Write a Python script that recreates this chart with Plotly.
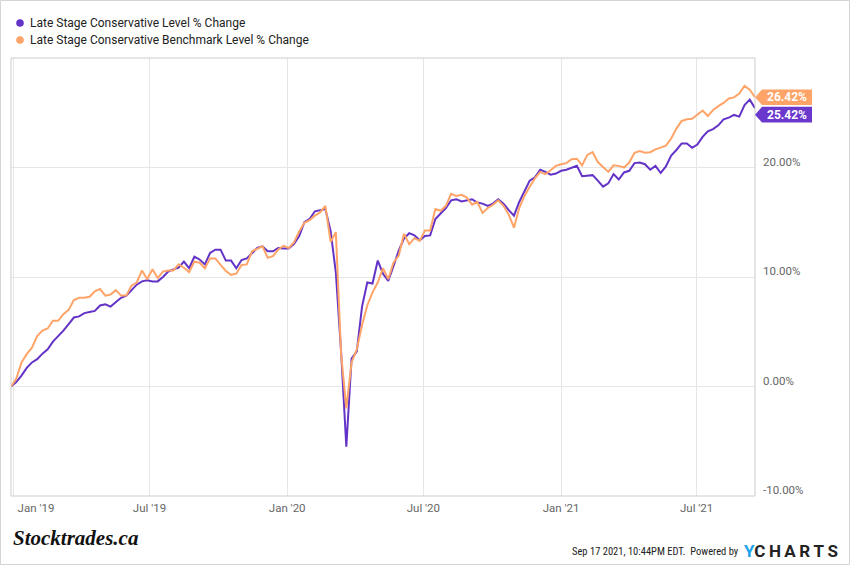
import pandas as pd
import plotly.graph_objects as go

# ---------------- data ----------------
start_date = "2018-12-28"
n_weeks = 143
dates = pd.date_range(start_date, periods=n_weeks, freq="7D")

level = [
    0.0, 0.4, 1.0, 1.7, 2.2, 2.5, 3.0, 3.4, 4.1, 4.6,
    5.1, 5.7, 6.3, 6.4, 6.7, 6.8, 6.9, 7.4, 7.5, 7.3,
    7.7, 8.1, 8.3, 8.8, 9.3, 9.6, 9.7, 9.6, 9.6, 10.0,
    10.5, 10.7, 10.85, 11.4, 10.8, 11.85, 11.6, 11.15, 12.2, 12.5,
    12.5, 11.5, 11.5, 10.8, 11.55, 11.7, 12.2, 12.65, 12.8, 12.35,
    12.35, 12.65, 12.6, 12.6, 13.0, 13.75, 15.0, 15.3, 16.0, 16.1,
    16.2, 14.2, 10.4, 3.2, -5.5, 2.55, 3.2, 7.3, 9.5, 9.4,
    11.5, 10.3, 9.65, 11.0, 12.4, 13.5, 14.0, 13.8, 13.35, 13.75,
    13.8, 15.3, 15.8, 16.3, 17.0, 17.1, 16.9, 17.0, 17.1, 16.8,
    16.7, 16.5, 16.7, 17.1, 16.7, 16.1, 15.6, 16.85, 17.85, 18.8,
    19.1, 19.8, 19.6, 19.35, 19.45, 19.7, 19.8, 19.95, 20.15, 19.2,
    19.25, 19.3, 18.8, 18.25, 18.55, 19.4, 18.9, 19.55, 19.7, 20.4,
    20.45, 20.3, 19.8, 20.15, 19.5, 20.1, 21.1, 21.6, 22.2, 22.2,
    21.8, 22.1, 22.8, 23.3, 23.5, 23.85, 24.4, 24.55, 24.8, 24.65,
    25.7, 26.2, 25.42,
]

benchmark = [
    0.0, 0.7, 2.2, 2.95, 3.55, 4.6, 5.1, 5.3, 6.0, 6.0,
    6.6, 7.0, 7.9, 8.1, 8.1, 8.2, 8.7, 8.9, 8.3, 8.4,
    8.8, 8.3, 8.3, 9.2, 9.5, 10.6, 9.8, 10.7, 9.9, 10.5,
    10.6, 10.6, 11.15, 10.85, 10.45, 11.4, 11.3, 10.8, 11.7, 11.7,
    11.1, 10.55, 10.2, 10.3, 11.1, 11.15, 12.35, 12.6, 12.8, 11.75,
    11.9, 12.5, 12.85, 12.65, 13.15, 14.15, 14.95, 15.2, 15.6, 15.9,
    16.5, 13.2, 14.1, 3.0, -2.0, 2.2, 3.4, 5.6, 7.4, 8.6,
    9.5, 10.8, 9.8, 11.3, 11.95, 13.95, 13.0, 13.55, 13.3, 14.25,
    14.25, 16.2, 16.05, 16.5, 17.6, 17.4, 17.5, 17.25, 16.6, 16.85,
    15.85, 16.3, 16.6, 17.0, 16.5, 15.7, 14.5, 16.3, 17.4, 18.25,
    19.0, 19.6, 19.4, 19.75, 20.15, 20.3, 20.4, 20.75, 20.8, 20.2,
    21.15, 21.4, 20.5, 20.05, 19.6, 20.2, 20.15, 20.0, 20.45, 21.35,
    21.5, 21.35, 21.4, 21.65, 21.8, 22.0, 22.65, 23.55, 24.25, 24.4,
    24.45, 24.8, 25.2, 24.7, 25.25, 25.6, 25.9, 26.3, 26.4, 26.75,
    27.45, 27.1, 26.42,
]

series_names = [
    "Late Stage Conservative Level % Change",
    "Late Stage Conservative Benchmark Level % Change",
]
series_colors = ["#6233c6", "#ffa468"]

x_tick_dates = ["2019-01-01", "2019-07-01", "2020-01-01", "2020-07-01", "2021-01-01", "2021-07-01"]
x_tick_labels = ["Jan '19", "Jul '19", "Jan '20", "Jul '20", "Jan '21", "Jul '21"]
y_tick_vals = [-10, 0, 10, 20]
y_tick_labels = ["-10.00%", "0.00%", "10.00%", "20.00%"]

# ---------------- geometry helpers ----------------
W_FIG, H_FIG = 850, 565
L, R, T, B = 11, 95, 58, 69
PW = W_FIG - L - R
PH = H_FIG - T - B


def px(xp):
    return (xp - L) / PW


def py(yp):
    return (H_FIG - B - yp) / PH


FONT = "Roboto, 'Noto Sans', sans-serif"
TICKFONT = dict(family=FONT, size=11.5, color="#666666")

fig = go.Figure()
for vals, name, col in zip([level, benchmark], series_names, series_colors):
    fig.add_trace(go.Scatter(
        x=dates, y=vals, mode="lines", name=name,
        line=dict(color=col, width=2), showlegend=False,
    ))
# invisible carrier so the overlay axis (first tick label) gets drawn
fig.add_trace(go.Scatter(
    x=dates[:1], y=level[:1], xaxis="x2", mode="markers",
    marker=dict(opacity=0, size=1), showlegend=False, hoverinfo="skip",
))

shapes = []
annotations = []

# outer frame
shapes.append(dict(type="rect", xref="paper", yref="paper",
                   x0=px(0.5), x1=px(W_FIG - 0.5), y0=py(H_FIG - 0.5), y1=py(0.5),
                   line=dict(color="#d4d4d4", width=1), layer="below"))
# plot frame
shapes.append(dict(type="rect", xref="paper", yref="paper", x0=0, x1=1, y0=0, y1=1,
                   line=dict(color="#cccccc", width=1), layer="above"))

# legend (manual)
for k, (name, col) in enumerate(zip(series_names, series_colors)):
    yp = 23 + 17 * k
    shapes.append(dict(type="circle", xref="paper", yref="paper",
                       xsizemode="pixel", ysizemode="pixel",
                       xanchor=px(20), yanchor=py(yp),
                       x0=-3.8, x1=3.8, y0=-3.8, y1=3.8,
                       fillcolor=col, line=dict(width=0)))
    annotations.append(dict(xref="paper", yref="paper", x=px(28), y=py(yp),
                            xanchor="left", yanchor="middle", showarrow=False,
                            text=name, font=dict(family=FONT, size=12, color="#222222")))

# end-value tags
last_vals = [level[-1], benchmark[-1]]
tag_shift = [-6.5, 0.0]  # pixel offsets to avoid overlap
tag_colors = ["#6a38cd", "#ffa468"]
for v, sh, col in zip(last_vals, tag_shift, tag_colors):
    h = 7.8
    path = (f"M0,{sh} L7,{sh + h} L57,{sh + h} L57,{sh - h} L7,{sh - h} Z")
    shapes.append(dict(type="path", xref="paper", yref="y",
                       xsizemode="pixel", ysizemode="pixel",
                       xanchor=1, yanchor=v, path=path,
                       fillcolor=col, line=dict(width=0), layer="above"))
    annotations.append(dict(xref="paper", yref="y", x=1, y=v, xshift=32, yshift=sh,
                            xanchor="center", yanchor="middle", showarrow=False,
                            text=f"{v:.2f}%",
                            font=dict(family=FONT, size=12, color="white", weight="bold")))

# footer texts
annotations.append(dict(xref="paper", yref="paper", x=px(11), y=py(538),
                        xanchor="left", yanchor="middle", showarrow=False,
                        text="<b><i>Stocktrades.ca</i></b>",
                        font=dict(family="'Liberation Serif', 'DejaVu Serif', serif", size=21, color="#111111")))
annotations.append(dict(xref="paper", yref="paper", x=px(741), y=py(551),
                        xanchor="right", yanchor="middle", showarrow=False,
                        text="Sep 17 2021, 10:44PM EDT.  Powered by",
                        font=dict(family="'Liberation Sans Narrow', 'Roboto Condensed', Roboto, sans-serif",
                                  size=10.5, color="#222222")))
annotations.append(dict(xref="paper", yref="paper", x=px(742), y=py(551),
                        xanchor="left", yanchor="middle", showarrow=False,
                        text="<span style='color:#1fa3ea'>Y</span>C\u2009H\u2009A\u2009R\u2009T\u2009S",
                        font=dict(family=FONT, size=17, color="#222222", weight="bold")))

x_range = [dates[0], dates[-1]]

fig.update_layout(
    width=W_FIG, height=H_FIG,
    margin=dict(l=L, r=R, t=T, b=B, pad=0),
    paper_bgcolor="white", plot_bgcolor="white",
    showlegend=False,
    shapes=shapes, annotations=annotations,
    xaxis=dict(
        type="date", range=x_range,
        tickvals=x_tick_dates[1:], ticktext=x_tick_labels[1:],
        showgrid=True, gridcolor="#e6e6e6", gridwidth=1,
        zeroline=False, showline=False, ticks="",
        tickfont=TICKFONT, ticklabelstandoff=3, automargin=False,
    ),
    # overlay axis carrying only the first tick, shifted inside the frame as in the reference
    xaxis2=dict(
        type="date", range=x_range, overlaying="x", anchor="y", side="bottom",
        tickvals=x_tick_dates[:1], ticktext=x_tick_labels[:1],
        showgrid=True, gridcolor="#e6e6e6", gridwidth=1,
        zeroline=False, showline=False, ticks="",
        tickfont=TICKFONT, ticklabelstandoff=3, ticklabelshift=22, automargin=False,
    ),
    yaxis=dict(
        side="right", range=[-10, 30],
        tickvals=y_tick_vals, ticktext=y_tick_labels,
        showgrid=True, gridcolor="#e6e6e6", gridwidth=1,
        zeroline=False, showline=False, ticks="",
        tickfont=TICKFONT, automargin=False,
        ticklabelshift=-6, ticklabelstandoff=7,
    ),
)

fig.write_html("out.html", config={"displayModeBar": False},
               post_script="document.body.style.margin='0px';")
